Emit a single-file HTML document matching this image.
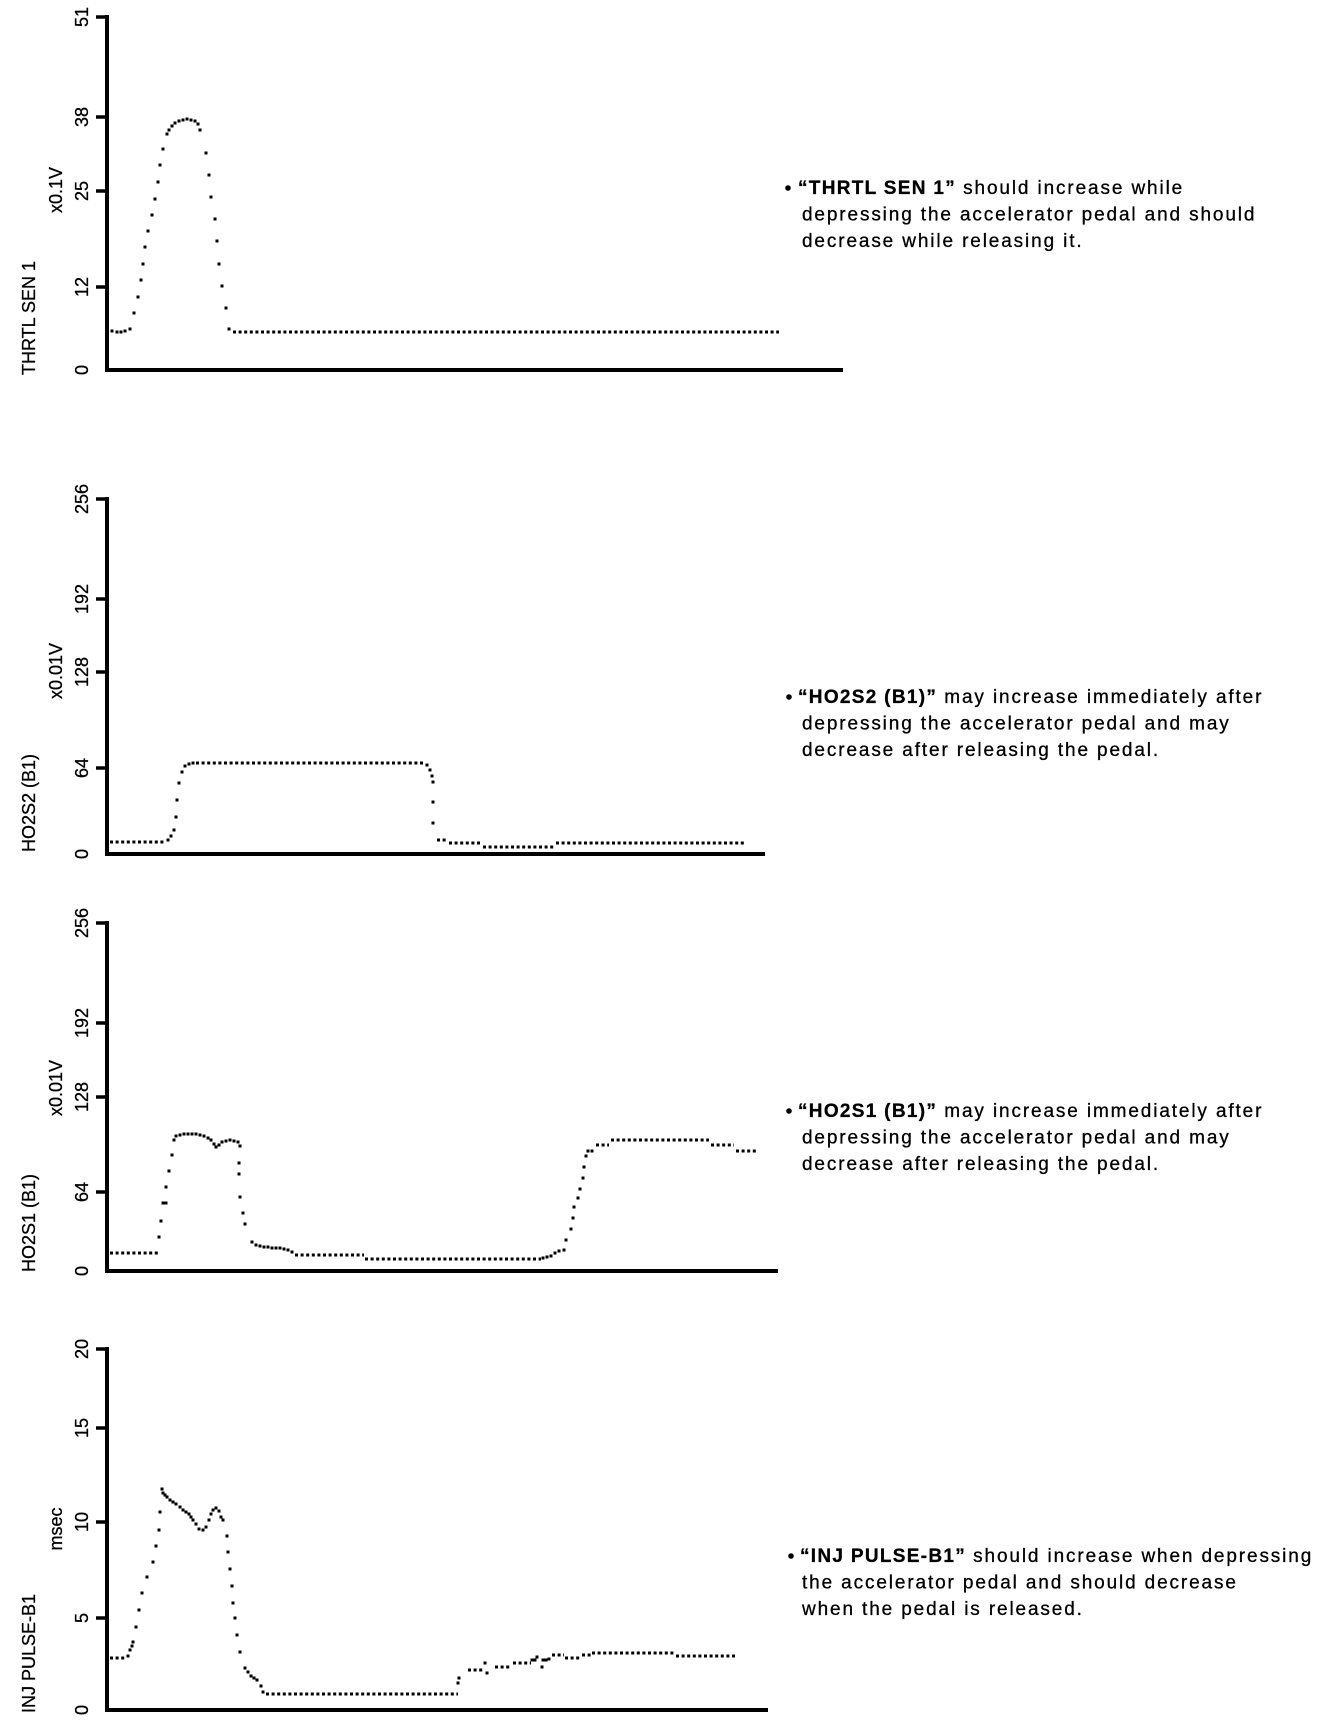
<!DOCTYPE html>
<html><head><meta charset="utf-8"><style>
html,body{margin:0;padding:0;background:#fff;}
svg{display:block;}
text{font-family:"Liberation Sans",Arial,sans-serif;fill:#000;stroke:#000;stroke-width:0.3px;}
.tl{font-size:18px;}
.rt{font-size:19px;letter-spacing:1.87px;}
.rt tspan{letter-spacing:1.3px;}
.ax{stroke:#000;stroke-width:4;fill:none;}
.tk{stroke:#000;stroke-width:3.5;}
.pts{fill:none;stroke:none;marker-start:url(#d);marker-mid:url(#d);marker-end:url(#d);}
.fl{stroke:#000;stroke-width:3;stroke-dasharray:3 2.6;fill:none;}
</style></head><body>
<svg width="1344" height="1730" viewBox="0 0 1344 1730" xmlns="http://www.w3.org/2000/svg">
<defs><marker id="d" markerUnits="userSpaceOnUse" markerWidth="4" markerHeight="4" refX="1.5" refY="1.5" overflow="visible"><rect width="3" height="3" fill="#000"/></marker></defs>
<rect width="1344" height="1730" fill="#fff"/>

<!-- ===== Chart 1 ===== -->
<path class="ax" d="M107,15 V372 M105,370 H843"/>
<path class="tk" d="M96,17H107 M96,117H107 M96,191H107 M96,287H107"/>
<g class="tl">
<text transform="translate(88,17) rotate(-90)" text-anchor="middle">51</text>
<text transform="translate(88,117) rotate(-90)" text-anchor="middle">38</text>
<text transform="translate(88,191) rotate(-90)" text-anchor="middle">25</text>
<text transform="translate(88,287) rotate(-90)" text-anchor="middle">12</text>
<text transform="translate(88,370) rotate(-90)" text-anchor="middle">0</text>
<text transform="translate(62,190) rotate(-90)" text-anchor="middle">x0.1V</text>
<text transform="translate(35,375) rotate(-90)" text-anchor="start">THRTL SEN 1</text>
</g>
<polyline class="pts" points="112,331 117,332 121,332 125,331 130,329 134,313 138,297 141,280 143,264 145,247 148,231 152,215 155,199 158,182 160,165 163,149 167,134 169,130 172,126 175,123 179,121 183,120 187,119 191,120 195,121 198,124 200,130 206,153 209,175 211,197 215,219 217,241 219,264 222,286 226,308 229,329"/>
<line class="fl" x1="233" y1="332" x2="779" y2="332"/>

<circle cx="788" cy="188" r="2.8"/>
<text class="rt" x="798" y="194"><tspan font-weight="bold">“THRTL SEN 1”</tspan> should increase while</text>
<text class="rt" x="802" y="220.5">depressing the accelerator pedal and should</text>
<text class="rt" x="802" y="247">decrease while releasing it.</text>

<!-- ===== Chart 2 ===== -->
<path class="ax" d="M107,497 V856 M105,854 H765"/>
<path class="tk" d="M96,499H107 M96,599H107 M96,672H107 M96,768H107"/>
<g class="tl">
<text transform="translate(88,499) rotate(-90)" text-anchor="middle">256</text>
<text transform="translate(88,599) rotate(-90)" text-anchor="middle">192</text>
<text transform="translate(88,672) rotate(-90)" text-anchor="middle">128</text>
<text transform="translate(88,768) rotate(-90)" text-anchor="middle">64</text>
<text transform="translate(88,854) rotate(-90)" text-anchor="middle">0</text>
<text transform="translate(62,671) rotate(-90)" text-anchor="middle">x0.01V</text>
<text transform="translate(35,852) rotate(-90)" text-anchor="start">HO2S2 (B1)</text>
</g>
<line class="fl" x1="110" y1="842" x2="166" y2="842"/>
<polyline class="pts" points="168,840 171,836 174,830 176,817 177,800 179,783 182,772 185,766 189,764 193,763"/>
<line class="fl" x1="196" y1="763" x2="425" y2="763"/>
<polyline class="pts" points="427,765 430,770 432,776 433,782 433,802 433,823"/>
<line class="fl" x1="437" y1="840" x2="448" y2="840"/>
<line class="fl" x1="449" y1="843" x2="482" y2="843"/>
<line class="fl" x1="483" y1="847" x2="554" y2="847"/>
<line class="fl" x1="556" y1="843" x2="745" y2="843"/>

<circle cx="789" cy="697" r="2.8"/>
<text class="rt" x="798" y="703"><tspan font-weight="bold">“HO2S2 (B1)”</tspan> may increase immediately after</text>
<text class="rt" x="802" y="729.5">depressing the accelerator pedal and may</text>
<text class="rt" x="802" y="756">decrease after releasing the pedal.</text>

<!-- ===== Chart 3 ===== -->
<path class="ax" d="M107,921 V1273 M105,1271 H778"/>
<path class="tk" d="M96,923H107 M96,1023H107 M96,1097H107 M96,1192H107"/>
<g class="tl">
<text transform="translate(88,923) rotate(-90)" text-anchor="middle">256</text>
<text transform="translate(88,1023) rotate(-90)" text-anchor="middle">192</text>
<text transform="translate(88,1097) rotate(-90)" text-anchor="middle">128</text>
<text transform="translate(88,1192) rotate(-90)" text-anchor="middle">64</text>
<text transform="translate(88,1271) rotate(-90)" text-anchor="middle">0</text>
<text transform="translate(62,1088) rotate(-90)" text-anchor="middle">x0.01V</text>
<text transform="translate(35,1272) rotate(-90)" text-anchor="start">HO2S1 (B1)</text>
</g>
<line class="fl" x1="110" y1="1253" x2="158" y2="1253"/>
<polyline class="pts" points="159,1237 161,1221 163,1203 166,1203 166,1187 169,1171 172,1155 174,1140 176,1136 180,1135 184,1134 188,1134 192,1134 196,1134 200,1135 204,1136 208,1138 211,1140 214,1144 216,1147 219,1145 222,1142 226,1141 230,1140 234,1141 238,1142 240,1146 239,1163 239,1174 240,1197 243,1213 245,1224 252,1242 256,1245 260,1246 264,1247 268,1247 272,1248 276,1248 280,1248 284,1249 288,1250 292,1252"/>
<line class="fl" x1="295" y1="1255" x2="364" y2="1255"/>
<line class="fl" x1="365" y1="1259" x2="541" y2="1259"/>
<polyline class="pts" points="543,1258 547,1257 551,1256 555,1253 559,1251 564,1250 566,1240 571,1229 573,1218 574,1207 578,1198 580,1189 583,1178 584,1167 586,1156 588,1151 592,1151"/>
<line class="fl" x1="596" y1="1145" x2="609" y2="1145"/>
<line class="fl" x1="611" y1="1140" x2="709" y2="1140"/>
<line class="fl" x1="711" y1="1145" x2="734" y2="1145"/>
<line class="fl" x1="736" y1="1151" x2="756" y2="1151"/>

<circle cx="789" cy="1111" r="2.8"/>
<text class="rt" x="798" y="1117"><tspan font-weight="bold">“HO2S1 (B1)”</tspan> may increase immediately after</text>
<text class="rt" x="802" y="1143.5">depressing the accelerator pedal and may</text>
<text class="rt" x="802" y="1170">decrease after releasing the pedal.</text>

<!-- ===== Chart 4 ===== -->
<path class="ax" d="M107,1347 V1712 M105,1710 H768"/>
<path class="tk" d="M96,1349H107 M96,1428H107 M96,1522H107 M96,1618H107"/>
<g class="tl">
<text transform="translate(88,1349) rotate(-90)" text-anchor="middle">20</text>
<text transform="translate(88,1428) rotate(-90)" text-anchor="middle">15</text>
<text transform="translate(88,1522) rotate(-90)" text-anchor="middle">10</text>
<text transform="translate(88,1618) rotate(-90)" text-anchor="middle">5</text>
<text transform="translate(88,1710) rotate(-90)" text-anchor="middle">0</text>
<text transform="translate(62,1529) rotate(-90)" text-anchor="middle">msec</text>
<text transform="translate(35,1713) rotate(-90)" text-anchor="start">INJ PULSE-B1</text>
</g>
<line class="fl" x1="110" y1="1658" x2="126" y2="1658"/>
<polyline class="pts" points="128,1656 130,1650 132,1646 133,1642 136,1627 139,1610 142,1593 147,1577 153,1562 156,1546 159,1530 160,1512 162,1489 163,1493 165,1495 167,1497 170,1500 173,1502 176,1504 180,1507 183,1510 186,1512 189,1514 191,1517 193,1520 196,1524 199,1529 203,1530 206,1527 209,1520 211,1514 213,1510 216,1508 219,1511 221,1517 223,1520 227,1536 228,1552 230,1569 232,1586 233,1603 235,1618 237,1635 240,1652 245,1668 248,1672 251,1676 254,1678 257,1680 261,1686 263,1692"/>
<line class="fl" x1="266" y1="1694" x2="458" y2="1694"/>
<polyline class="pts" points="458,1683 459,1678"/>
<line class="fl" x1="468" y1="1670" x2="484" y2="1670"/>
<polyline class="pts" points="485,1663 487,1673"/>
<line class="fl" x1="495" y1="1667" x2="511" y2="1667"/>
<line class="fl" x1="513" y1="1663" x2="531" y2="1663"/>
<polyline class="pts" points="532,1660 535,1660 537,1657 542,1667 543,1660 546,1660 549,1659"/>
<line class="fl" x1="552" y1="1655" x2="564" y2="1655"/>
<line class="fl" x1="565" y1="1658" x2="581" y2="1658"/>
<line class="fl" x1="582" y1="1655" x2="591" y2="1655"/>
<line class="fl" x1="592" y1="1653" x2="674" y2="1653"/>
<line class="fl" x1="676" y1="1656" x2="736" y2="1656"/>

<circle cx="791" cy="1556" r="2.8"/>
<text class="rt" x="800" y="1562"><tspan font-weight="bold">“INJ PULSE-B1”</tspan> should increase when depressing</text>
<text class="rt" x="802" y="1588.5">the accelerator pedal and should decrease</text>
<text class="rt" x="802" y="1615">when the pedal is released.</text>
</svg>
</body></html>
